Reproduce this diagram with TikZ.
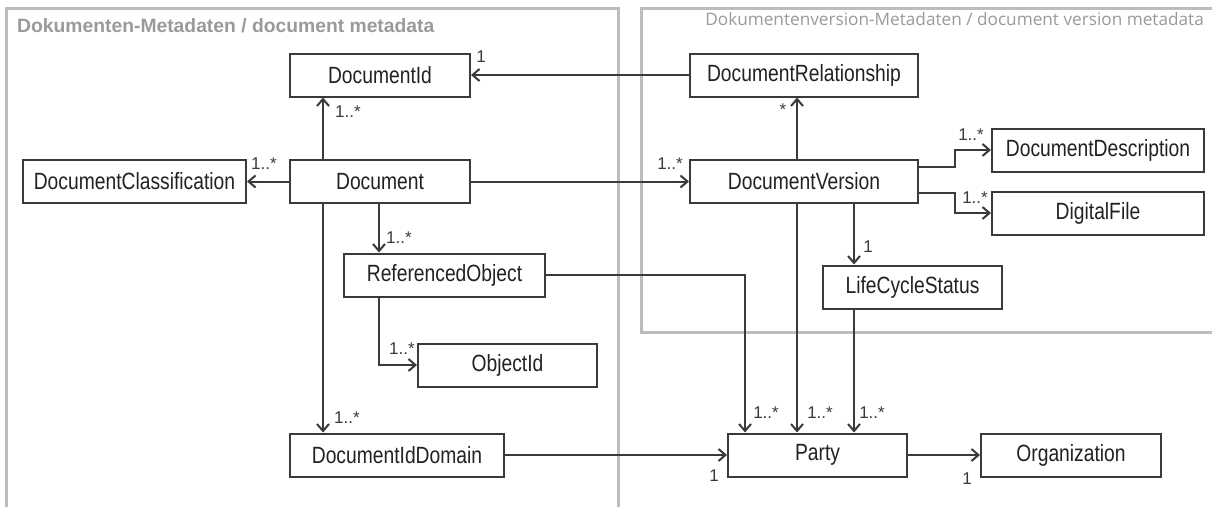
\documentclass[tikz,border=0pt]{standalone}
\usepackage{fontspec}
\setmainfont{Liberation Sans}
\newfontfamily\narrowfont[FakeStretch=0.82]{Liberation Sans}
\newfontfamily\titlefont{Open Sans}
\usetikzlibrary{arrows.meta}
\definecolor{panelc}{HTML}{BDBDBD}
\definecolor{titlec}{HTML}{9A9A9A}
\definecolor{boxc}{HTML}{3A3A3A}
\definecolor{textc}{HTML}{222222}
\definecolor{linec}{HTML}{3A3A3A}
\definecolor{labc}{HTML}{3A3A3A}
\tikzset{
  umlbox/.style={draw=boxc, line width=2pt, fill=white, minimum height=43pt, inner sep=0pt,
    font=\narrowfont\fontsize{23.5}{26}\selectfont, text=textc},
  conn/.style={draw=linec, line width=2pt, -{Straight Barb[length=7pt,width=12pt]}},
  lab/.style={font=\fontsize{17}{20}\selectfont, text=labc, inner sep=0pt},
  panel/.style={draw=panelc, line width=3pt},
}
\begin{document}
\begin{tikzpicture}[x=1pt,y=-1pt]
\useasboundingbox (0,0) rectangle (1212,506);
\clip (0,0) rectangle (1212,506);
\fill[white] (0,0) rectangle (1212,506);
% panels
\draw[panel] (6,8) rectangle (618,530);
\draw[panel] (641,8) rectangle (1230,332);
\node[anchor=west, inner sep=0pt, text=titlec, font=\bfseries\fontsize{19.3}{22}\selectfont] (t1) at (17,26) {Dokumenten-Metadaten / document metadata};
\node[anchor=east, inner sep=0pt, text=titlec, font=\titlefont\fontsize{17.2}{20}\selectfont] (t2) at (1204,19) {Dokumentenversion-Metadaten / document version metadata};
% boxes
\node[umlbox, minimum width=180pt] (docid) at (380,75) {DocumentId};
\node[umlbox, minimum width=228pt] (rel) at (804,75) {DocumentRelationship};
\node[umlbox, minimum width=223pt] (cls) at (134.5,181.5) {DocumentClassification};
\node[umlbox, minimum width=180pt] (doc) at (380,181.5) {Document};
\node[umlbox, minimum width=228pt] (ver) at (804,181.5) {DocumentVersion};
\node[umlbox, minimum width=212pt] (desc) at (1098,150) {DocumentDescription};
\node[umlbox, minimum width=212pt] (file) at (1098,213) {DigitalFile};
\node[umlbox, minimum width=201pt] (ref) at (444.5,275) {ReferencedObject};
\node[umlbox, minimum width=179pt] (lcs) at (912.5,287) {LifeCycleStatus};
\node[umlbox, minimum width=179pt] (obj) at (507.5,365) {ObjectId};
\node[umlbox, minimum width=214pt] (dom) at (397,455) {DocumentIdDomain};
\node[umlbox, minimum width=179pt] (party) at (817.5,455) {Party};
\node[umlbox, minimum width=180pt] (org) at (1071,455) {Organization};
% helper x positions
\coordinate (cA) at (323,0);
\coordinate (cB) at (379,0);
\coordinate (cC) at (797,0);
\coordinate (cD) at (854,0);
\coordinate (cE) at (745,0);
\coordinate (cF) at (955,0);
% connectors
\draw[conn] (rel.west) -- (docid.east);
\draw[conn] (cA |- doc.north) -- (cA |- docid.south);
\draw[conn] (doc.west) -- (cls.east);
\draw[conn] (doc.east) -- (ver.west);
\draw[conn] (cC |- ver.north) -- (cC |- rel.south);
\draw[conn] ([yshift=14.5pt]ver.east) -| (cF |- desc.west) -- (desc.west);
\draw[conn] ([yshift=-11.5pt]ver.east) -| (cF |- file.west) -- (file.west);
\draw[conn] (cD |- ver.south) -- (cD |- lcs.north);
\draw[conn] (cB |- doc.south) -- (cB |- ref.north);
\draw[conn] (cA |- doc.south) -- (cA |- dom.north);
\draw[conn] (cB |- ref.south) |- (obj.west);
\draw[conn] (ref.east) -| (cE |- party.north);
\draw[conn] (cC |- ver.south) -- (cC |- party.north);
\draw[conn] (cD |- lcs.south) -- (cD |- party.north);
\draw[conn] (dom.east) -- (party.west);
\draw[conn] (party.east) -- (org.west);
% multiplicities
\node[lab] (m1) at (481,57) {1};
\node[lab] (m2) at (348,112) {1..*};
\node[lab] (m3) at (264,164) {1..*};
\node[lab] (m4) at (670,164) {1..*};
\node[lab] (m5) at (783,110) {*};
\node[lab] (m6) at (971,135) {1..*};
\node[lab] (m7) at (975,198) {1..*};
\node[lab] (m8) at (868,247) {1};
\node[lab] (m9) at (399,238) {1..*};
\node[lab] (m10) at (347,418) {1..*};
\node[lab] (m11) at (402,349) {1..*};
\node[lab] (m12) at (766,413) {1..*};
\node[lab] (m13) at (820,413) {1..*};
\node[lab] (m14) at (872,413) {1..*};
\node[lab] (m15) at (714,476) {1};
\node[lab] (m16) at (967,479) {1};
\end{tikzpicture}
\end{document}
